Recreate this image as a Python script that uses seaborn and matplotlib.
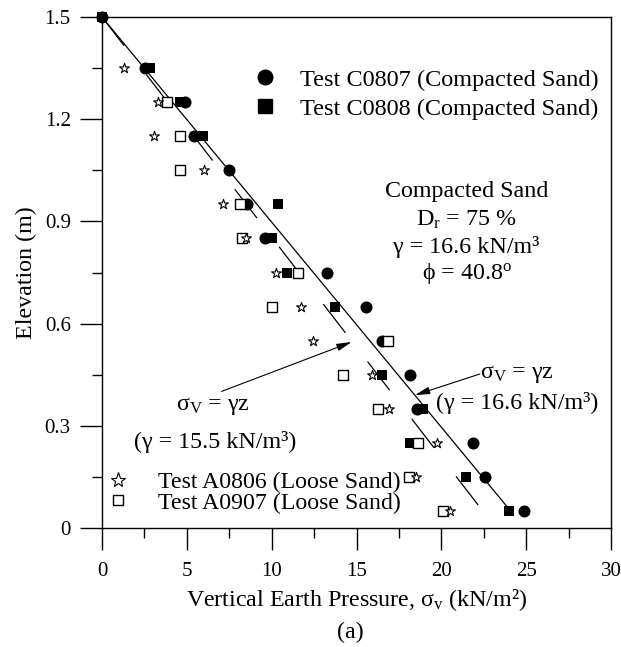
import matplotlib
matplotlib.use('Agg')
import matplotlib.pyplot as plt
import seaborn as sns
from matplotlib.lines import Line2D
from matplotlib.ticker import MultipleLocator

# ---------------- data ----------------
c0807_elev = [1.5, 1.35, 1.25, 1.15, 1.05, 0.95, 0.85, 0.75, 0.65, 0.55, 0.45, 0.35, 0.25, 0.15, 0.05]
c0807_sv = [0.0, 2.53, 4.89, 5.42, 7.50, 8.54, 9.60, 13.28, 15.56, 16.50, 18.15, 18.56, 21.84, 22.57, 24.87]

c0808_elev = [1.5, 1.35, 1.25, 1.15, 0.95, 0.85, 0.75, 0.65, 0.45, 0.35, 0.25, 0.15, 0.05]
c0808_sv = [0.0, 2.83, 4.60, 5.95, 10.35, 10.00, 10.88, 13.73, 16.52, 18.90, 18.15, 21.45, 23.98]

a0806_elev = [1.35, 1.25, 1.15, 1.05, 0.95, 0.85, 0.75, 0.65, 0.55, 0.45, 0.35, 0.25, 0.15, 0.05]
a0806_sv = [1.31, 3.32, 3.06, 6.03, 7.15, 8.49, 10.25, 11.73, 12.42, 15.89, 16.93, 19.76, 18.48, 20.50]

a0907_elev = [1.25, 1.15, 1.05, 0.95, 0.85, 0.75, 0.65, 0.55, 0.45, 0.35, 0.25, 0.15, 0.05]
a0907_sv = [3.85, 4.60, 4.60, 8.13, 8.23, 11.53, 10.00, 16.85, 14.18, 16.25, 18.62, 18.11, 20.11]

# theoretical lines sigma_v = gamma * z (end points)
line166_sv = [0.0, 23.95]
line166_elev = [1.5, 0.058]
line155_sv = [0.0, 22.47]
line155_elev = [1.5, 0.048]

legend_top = ['Test C0807 (Compacted Sand)', 'Test C0808 (Compacted Sand)']
legend_bottom = ['Test A0806 (Loose Sand)', 'Test A0907 (Loose Sand)']
x_ticks = [0, 5, 10, 15, 20, 25, 30]
y_ticks = [0, 0.3, 0.6, 0.9, 1.2, 1.5]
y_ticklabels = ['0', '0.3', '0.6', '0.9', '1.2', '1.5']

# ---------------- style ----------------
sns.set_style('white')
plt.rcParams['font.family'] = ['Liberation Serif', 'DejaVu Serif']
plt.rcParams['mathtext.fontset'] = 'custom'
plt.rcParams['mathtext.rm'] = 'Liberation Serif'
plt.rcParams['mathtext.it'] = 'Liberation Serif:italic'
plt.rcParams['text.color'] = 'black'
plt.rcParams['axes.labelcolor'] = 'black'

FS = 17.3      # annotations / labels
LFS1 = 17.5    # upper legend
LFS2 = 17.2    # lower legend
TFS = 15       # tick labels

fig = plt.figure(figsize=(6.21, 6.47), dpi=100)
ax = fig.add_axes([102 / 621, 1 - 528 / 647, 509 / 621, 511 / 647])

# lines
sns.lineplot(x=line166_sv, y=line166_elev, sort=False, estimator=None,
             color='black', linewidth=0.9, ax=ax, zorder=1)
sns.lineplot(x=line155_sv, y=line155_elev, sort=False, estimator=None,
             color='black', linewidth=0.9, linestyle=(0, (29, 29)), ax=ax, zorder=1)

# points
sns.scatterplot(x=c0807_sv, y=c0807_elev, marker='o', s=75, color='black',
                edgecolor='black', linewidth=0, ax=ax, zorder=3, clip_on=False)
sns.scatterplot(x=c0808_sv, y=c0808_elev, marker='s', s=58, color='black',
                edgecolor='black', linewidth=0, ax=ax, zorder=4, clip_on=False)
sns.scatterplot(x=a0907_sv, y=a0907_elev, marker='s', s=42, color='white',
                edgecolor='black', linewidth=1.0, ax=ax, zorder=5, clip_on=False)
sns.scatterplot(x=a0806_sv, y=a0806_elev, marker='*', s=55, color='white',
                edgecolor='black', linewidth=0.8, ax=ax, zorder=6, clip_on=False)

# axes
ax.set_xlim(0, 30)
ax.set_ylim(0, 1.5)
ax.set_xticks(x_ticks)
ax.set_yticks(y_ticks)
ax.set_xticklabels([str(t) for t in x_ticks])
ax.set_yticklabels(y_ticklabels)
ax.xaxis.set_minor_locator(MultipleLocator(2.5))
ax.yaxis.set_minor_locator(MultipleLocator(0.15))
ax.tick_params(axis='both', which='major', direction='out', length=15.5, width=1.0,
               colors='black', labelsize=TFS)
ax.tick_params(axis='both', which='minor', direction='out', length=7, width=1.0, colors='black')
ax.tick_params(axis='x', which='major', pad=9)
ax.tick_params(axis='y', which='major', pad=7)
ax.tick_params(top=False, right=False, bottom=True, left=True, which='both')
for sp in ax.spines.values():
    sp.set_visible(True)
    sp.set_color('black')
    sp.set_linewidth(1.0)

ax.set_xlabel('Vertical Earth Pressure, σ$_\\mathrm{v}$ (kN/m²)', fontsize=FS)
ax.set_ylabel('Elevation (m)', fontsize=FS)
ax.xaxis.set_label_coords(0.5, -0.115)
ax.yaxis.set_label_coords(-0.128, 0.5)

# legends
h1 = Line2D([], [], marker='o', ls='none', color='black', markersize=10.5)
h2 = Line2D([], [], marker='s', ls='none', color='black', markersize=9.5)
leg1 = ax.legend([h1, h2], legend_top, loc='upper left', bbox_to_anchor=(0.296, 0.899),
                 frameon=False, borderpad=0, borderaxespad=0, handlelength=1.0,
                 handletextpad=0.94, labelspacing=0.30, fontsize=LFS1)
ax.add_artist(leg1)

h3 = Line2D([], [], marker='*', ls='none', markersize=11, markerfacecolor='white',
            markeredgecolor='black', markeredgewidth=0.8)
h4 = Line2D([], [], marker='s', ls='none', markersize=7.5, markerfacecolor='white',
            markeredgecolor='black', markeredgewidth=1.0)
leg2 = ax.legend([h3, h4], legend_bottom, loc='upper left', bbox_to_anchor=(0.008, 0.110),
                 frameon=False, borderpad=0, borderaxespad=0, handlelength=1.0,
                 handletextpad=1.17, labelspacing=-0.06, fontsize=LFS2)

# annotation text block
ax.text(21.49, 0.987, 'Compacted Sand', ha='center', va='center', fontsize=FS)
ax.text(21.49, 0.904, 'D$_\\mathrm{r}$ = 75 %', ha='center', va='center', fontsize=FS)
ax.text(21.49, 0.826, 'γ = 16.6 kN/m³', ha='center', va='center', fontsize=FS)
ax.text(21.49, 0.748, 'ϕ = 40.8$^\\mathrm{o}$', ha='center', va='center', fontsize=FS)

# arrows and labels for the two theoretical lines
arrow_kw = dict(arrowstyle='-|>,head_length=0.9,head_width=0.22', color='black', lw=0.8,
                shrinkA=0, shrinkB=0)
ax.annotate('', xy=(14.71, 0.546), xytext=(7.05, 0.401), arrowprops=arrow_kw)
ax.annotate('', xy=(18.44, 0.39), xytext=(22.27, 0.452), arrowprops=arrow_kw)

ax.text(6.54, 0.358, 'σ$_\\mathrm{V}$ = γz', ha='center', va='center', fontsize=FS)
ax.text(6.66, 0.252, '(γ = 15.5 kN/m³)', ha='center', va='center', fontsize=FS)
ax.text(24.44, 0.452, 'σ$_\\mathrm{V}$ = γz', ha='center', va='center', fontsize=FS)
ax.text(24.44, 0.367, '(γ = 16.6 kN/m³)', ha='center', va='center', fontsize=FS)

fig.text(350 / 621, 1 - 632 / 647, '(a)', ha='center', va='center', fontsize=FS)

fig.savefig('out.png', dpi=100)
